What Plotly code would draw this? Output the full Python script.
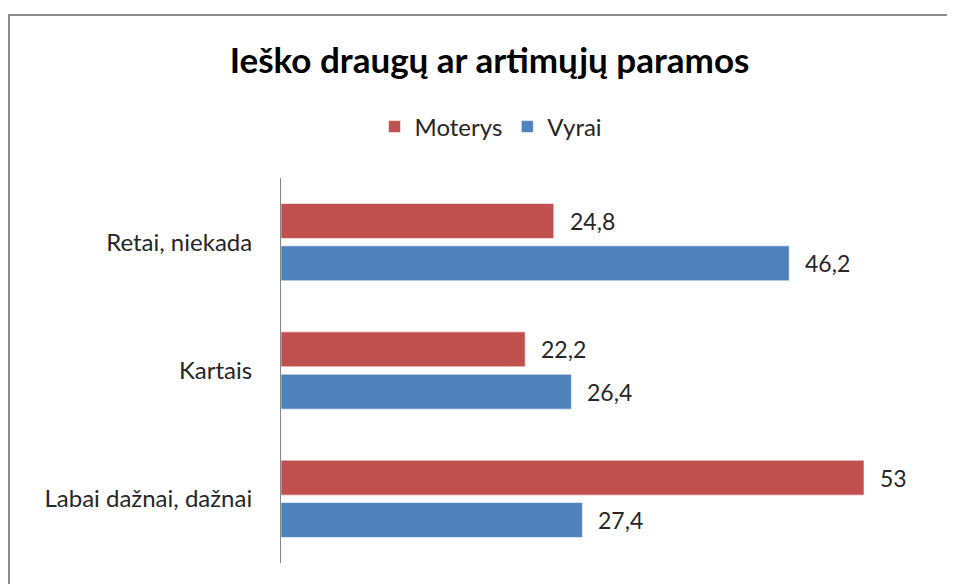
import plotly.graph_objects as go

categories = ["Labai dažnai, dažnai", "Kartais", "Retai, niekada"]
moterys = [53, 22.2, 24.8]
vyrai = [27.4, 26.4, 46.2]
series_names = ["Vyrai", "Moterys"]
title_text = "Ieško draugų ar artimųjų paramos"

def fmt(v):
    s = f"{v:g}"
    return s.replace(".", ",")

FONT = "Lato"
TXT = "#262626"
OFF = 8  # page body margin
W, H = 955 - OFF, 584 - OFF
L, R, T, B = 281 - OFF, 14, 178 - OFF, 21
pw, ph = W - L - R, H - T - B

fig = go.Figure()
fig.add_trace(go.Bar(y=categories, x=vyrai, name=series_names[0], orientation="h",
                     marker=dict(color="#4F81BD", line=dict(color="rgba(255,255,255,0.6)", width=1))))
fig.add_trace(go.Bar(y=categories, x=moterys, name=series_names[1], orientation="h",
                     marker=dict(color="#C0504D", line=dict(color="rgba(255,255,255,0.6)", width=1))))

bargap = 0.34
bargroupgap = 0.175
off = (1 - bargap) / 4
annotations = []
for i, c in enumerate(categories):
    for v, d in ((vyrai[i], -off), (moterys[i], off)):
        annotations.append(dict(x=v, y=i + d, xref="x", yref="y", text=fmt(v),
                                showarrow=False, xanchor="left", yanchor="middle",
                                xshift=14, font=dict(family=FONT, size=23, color=TXT)))

fig.update_layout(
    width=W, height=H,
    margin=dict(l=L, r=R, t=T, b=B),
    paper_bgcolor="white", plot_bgcolor="white",
    barmode="group", bargap=bargap, bargroupgap=bargroupgap,
    title=dict(text=f"<b>{title_text}</b>", x=(489.5 - OFF) / W, xanchor="center",
               y=1 - (61 - OFF) / H, yanchor="middle", xref="container", yref="container",
               font=dict(family=FONT, size=35, color="#000000")),
    legend=dict(orientation="h", traceorder="reversed", x=(491 - OFF - L) / pw, xanchor="center",
                y=(H - B - (127 - OFF)) / ph, yanchor="middle",
                font=dict(family=FONT, size=24, color=TXT), bgcolor="rgba(0,0,0,0)"),
    xaxis=dict(range=[0, 60], showgrid=False, showticklabels=False, zeroline=False,
               showline=False, ticks="", fixedrange=True),
    yaxis=dict(showgrid=False, showline=True, linecolor="#868686", linewidth=1,
               ticks="", ticklabelstandoff=23,
               tickfont=dict(family=FONT, size=24, color=TXT), range=[-0.5, 2.5]),
    annotations=annotations,
    shapes=[dict(type="rect", xref="paper", yref="paper",
                 x0=(9 - OFF - L) / pw, x1=1.2, y0=-0.2, y1=(H - B - (15 - OFF)) / ph,
                 line=dict(color="#8C8C8C", width=2), fillcolor="rgba(0,0,0,0)", layer="below")],
    showlegend=True,
)

fig.write_html("out.html")
